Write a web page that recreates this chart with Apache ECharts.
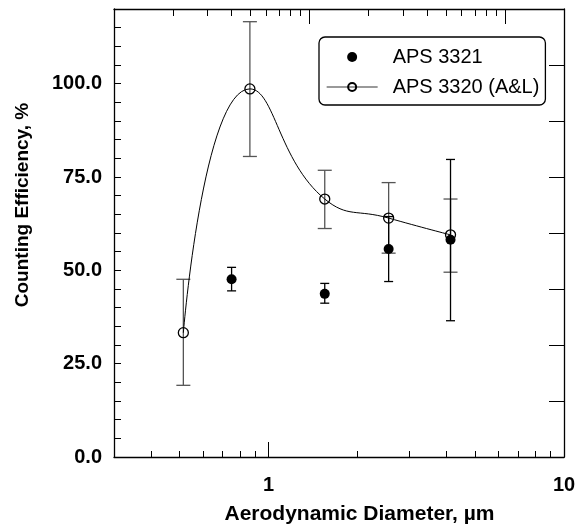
<!DOCTYPE html>
<html>
<head>
<meta charset="utf-8">
<title>Counting Efficiency</title>
<script src="https://cdn.jsdelivr.net/npm/echarts@6/dist/echarts.min.js"></script>
<style>
  html, body { margin: 0; padding: 0; background: #fff; }
  #chart { width: 576px; height: 526px; }
</style>
</head>
<body>
<div id="chart"></div>
<script>
// APS 3320 (A&L) -- open circles, smoothed curve
const diam3320 = [0.515, 0.865, 1.55, 2.55, 4.13];
const eff3320 = [33.3, 98.6, 69.1, 64.0, 59.5];
const low3320 = [19.2, 80.5, 61.2, 54.6, 49.5];
const high3320 = [47.6, 116.6, 76.8, 73.5, 69.1];

// APS 3321 -- filled circles
const diam3321 = [0.75, 1.55, 2.55, 4.13];
const eff3321 = [47.6, 43.7, 55.7, 58.2];
const low3321 = [44.5, 41.2, 47.0, 36.5];
const high3321 = [50.8, 46.5, 64.4, 79.7];

// axis labels / ticks
const xLabels = [1, 10];
const xMinorTicks = [0.4, 0.5, 0.6, 0.7, 0.8, 0.9, 2, 3, 4, 5, 6, 7, 8, 9];
const xMajorTicks = [1];
const topMinorTicks = [2, 3, 4, 5, 6, 7, 8, 9, 20, 30, 40, 50, 60, 70, 80, 90];
const topMajorTicks = [10, 100];
const yLabels = [0, 25, 50, 75, 100];
const yTicks = [0, 5, 10, 15, 20, 25, 30, 35, 40, 45, 50, 55, 60, 65, 70, 75, 80, 85, 90, 95, 100, 105, 110, 115];
const rightTicks = [15, 30, 45, 60, 75, 90, 105];

const FONT = '"Liberation Sans", Arial, Helvetica, sans-serif';

const chart = echarts.init(document.getElementById('chart'));

// error bar drawing: vertical line with caps
function errorBars(halfCap, color) {
  return function (params, api) {
    const x = api.value(0);
    const top = api.coord([x, api.value(2)]);
    const bot = api.coord([x, api.value(1)]);
    const style = { stroke: color, lineWidth: 1.3 };
    return {
      type: 'group',
      children: [
        { type: 'line', shape: { x1: top[0], y1: top[1], x2: bot[0], y2: bot[1] }, style: style },
        { type: 'line', shape: { x1: top[0] - halfCap, y1: top[1], x2: top[0] + halfCap, y2: top[1] }, style: style },
        { type: 'line', shape: { x1: bot[0] - halfCap, y1: bot[1], x2: bot[0] + halfCap, y2: bot[1] }, style: style }
      ]
    };
  };
}

const logX = { type: 'log', logBase: 10, min: 0.3, max: 10, splitLine: { show: false } };
const frameLine = { show: true, lineStyle: { color: '#000', width: 1.3 } };

const option = {
  animation: false,
  backgroundColor: '#fff',
  textStyle: { fontFamily: FONT },
  // fixed plot box, no auto-shrinking for labels
  grid: { left: 114, right: 12, top: 9, bottom: 69, containLabel: false, outerBoundsMode: 'none' },
  legend: {
    orient: 'vertical',
    left: 319,
    top: 37,
    padding: [10, 6, 8, 7],
    itemGap: 10,
    itemWidth: 51,
    itemHeight: 10,
    borderColor: '#000',
    borderWidth: 1.3,
    borderRadius: 6,
    backgroundColor: '#fff',
    textStyle: { fontFamily: FONT, fontSize: 20, color: '#000', padding: [0, 0, 0, 10] },
    data: [
      { name: 'APS 3321', icon: 'circle', itemStyle: { color: '#000', opacity: 1 } },
      { name: 'APS 3320 (A&L)', lineStyle: { color: '#777', width: 1.3 } }
    ]
  },
  xAxis: [
    Object.assign({}, logX, {
      position: 'bottom',
      axisLine: frameLine,
      axisTick: { inside: true, length: 6, customValues: xMinorTicks, lineStyle: { color: '#000', width: 1 } },
      axisLabel: {
        customValues: xLabels, margin: 18, fontSize: 20, fontWeight: 'bold', color: '#000', fontFamily: FONT,
        formatter: function (v) { return String(Math.round(v)); }
      },
      name: 'Aerodynamic Diameter, µm',
      nameLocation: 'middle',
      nameGap: 47,
      nameTextStyle: { fontSize: 21, fontWeight: 'bold', color: '#000', fontFamily: FONT, padding: [0, 0, 0, 41] }
    }),
    Object.assign({}, logX, {
      position: 'bottom',
      axisLine: { show: false },
      axisTick: { inside: true, length: 15, customValues: xMajorTicks, lineStyle: { color: '#000', width: 1 } },
      axisLabel: { show: false }
    }),
    {
      type: 'log', logBase: 10, min: 1, max: 200, position: 'top',
      axisLine: frameLine,
      axisTick: { inside: true, length: 7, customValues: topMinorTicks, lineStyle: { color: '#000', width: 1 } },
      axisLabel: { show: false },
      splitLine: { show: false }
    },
    {
      type: 'log', logBase: 10, min: 1, max: 200, position: 'top',
      axisLine: { show: false },
      axisTick: { inside: true, length: 15, customValues: topMajorTicks, lineStyle: { color: '#000', width: 1 } },
      axisLabel: { show: false },
      splitLine: { show: false }
    }
  ],
  yAxis: [
    {
      type: 'value', min: 0, max: 120, position: 'left',
      axisLine: frameLine,
      axisTick: { inside: true, length: 7, customValues: yTicks, lineStyle: { color: '#000', width: 1 } },
      axisLabel: {
        customValues: yLabels, margin: 12, fontSize: 20, fontWeight: 'bold', color: '#000', fontFamily: FONT,
        padding: [3, 0, 0, 0],
        formatter: function (v) { return v.toFixed(1); }
      },
      splitLine: { show: false },
      name: 'Counting Efficiency, %',
      nameLocation: 'middle',
      nameGap: 82,
      nameRotate: 90,
      nameTextStyle: { fontSize: 19, fontWeight: 'bold', color: '#000', fontFamily: FONT, padding: [0, 0, 0, 56] }
    },
    {
      type: 'value', min: 0, max: 120, position: 'right',
      axisLine: frameLine,
      axisTick: { inside: true, length: 15, customValues: rightTicks, lineStyle: { color: '#000', width: 1 } },
      axisLabel: { show: false },
      splitLine: { show: false }
    }
  ],
  series: [
    {
      name: 'APS 3320 (A&L) error',
      type: 'custom',
      xAxisIndex: 0, yAxisIndex: 0,
      renderItem: errorBars(7, '#555'),
      encode: { x: 0, y: [1, 2] },
      data: diam3320.map((d, i) => [d, low3320[i], high3320[i]]),
      z: 2
    },
    {
      name: 'APS 3321 error',
      type: 'custom',
      xAxisIndex: 0, yAxisIndex: 0,
      renderItem: errorBars(4.5, '#000'),
      encode: { x: 0, y: [1, 2] },
      data: diam3321.map((d, i) => [d, low3321[i], high3321[i]]),
      z: 2
    },
    {
      name: 'APS 3321',
      type: 'scatter',
      xAxisIndex: 0, yAxisIndex: 0,
      symbol: 'circle',
      symbolSize: 10,
      itemStyle: { color: '#000', opacity: 1 },
      data: diam3321.map((d, i) => [d, eff3321[i]]),
      z: 4
    },
    {
      name: 'APS 3320 (A&L)',
      type: 'line',
      xAxisIndex: 0, yAxisIndex: 0,
      smooth: 0.5,
      symbol: 'circle',
      symbolSize: 10,
      lineStyle: { color: '#000', width: 1 },
      itemStyle: { color: 'rgba(255,255,255,0)', borderColor: '#000', borderWidth: 1.3 },
      data: diam3320.map((d, i) => [d, eff3320[i]]),
      z: 3
    }
  ]
};

chart.setOption(option);
</script>
</body>
</html>
